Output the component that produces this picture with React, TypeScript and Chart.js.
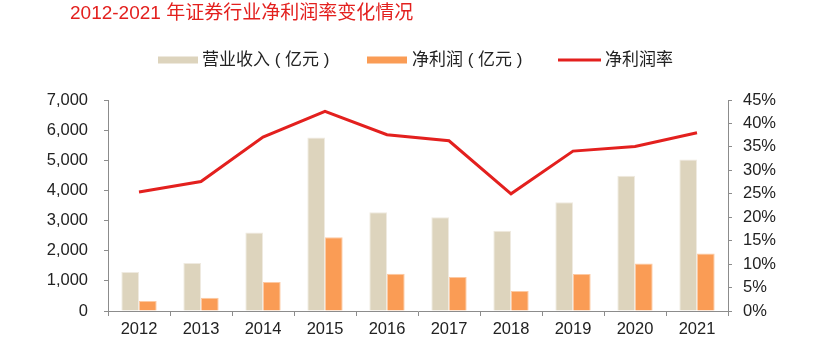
import React, { useEffect, useRef } from "react";
import { Chart, registerables } from "chart.js";

Chart.register(...registerables);

const TITLE = "2012-2021 年证券行业净利润率变化情况";
const years = ["2012", "2013", "2014", "2015", "2016", "2017", "2018", "2019", "2020", "2021"];
const revenueLabel = "营业收入 ( 亿元 )";
const profitLabel = "净利润 ( 亿元 )";
const marginLabel = "净利润率";
const revenue = [1295, 1592, 2603, 5752, 3280, 3113, 2663, 3605, 4485, 5024];
const netProfit = [329, 440, 966, 2448, 1234, 1130, 666, 1231, 1575, 1911];
const margin = [0.254, 0.276, 0.371, 0.426, 0.376, 0.363, 0.250, 0.341, 0.351, 0.380];

const BEIGE = "#DDD4BD";
const ORANGE = "#FA9C55";
const RED = "#E3201E";
const TEXT = "#222222";
const AXIS = "#8C8C8C";
const LATIN = "'Liberation Sans', Arial, 'Noto Sans CJK SC', sans-serif";

const overlayPlugin = {
  id: "overlay",
  afterDraw(chart: any) {
    const ctx = chart.ctx;
    ctx.save();
    ctx.textBaseline = "middle";
    ctx.textAlign = "left";
    ctx.fillStyle = RED;
    ctx.font = `19px ${LATIN}`;
    ctx.fillText(TITLE, 70, 14);

    ctx.font = `17px ${LATIN}`;
    const ly = 60;
    ctx.fillStyle = BEIGE;
    ctx.fillRect(158, ly - 3.5, 40, 7);
    ctx.fillStyle = TEXT;
    ctx.fillText(revenueLabel, 202, ly);

    ctx.fillStyle = ORANGE;
    ctx.fillRect(367, ly - 3.5, 40, 7);
    ctx.fillStyle = TEXT;
    ctx.fillText(profitLabel, 412, ly);

    ctx.strokeStyle = RED;
    ctx.lineWidth = 3;
    ctx.beginPath();
    ctx.moveTo(558, ly);
    ctx.lineTo(601, ly);
    ctx.stroke();
    ctx.fillStyle = TEXT;
    ctx.fillText(marginLabel, 605, ly);
    ctx.restore();
  },
};

export default function App() {
  const ref = useRef<HTMLCanvasElement>(null);
  useEffect(() => {
    if (!ref.current) return;
    const chart = new Chart(ref.current, {
      type: "bar",
      data: {
        labels: years,
        datasets: [
          {
            type: "line",
            label: marginLabel,
            data: margin,
            yAxisID: "y1",
            borderColor: RED,
            backgroundColor: RED,
            borderWidth: 3,
            pointRadius: 0,
            tension: 0,
            order: 0,
          } as any,
          {
            label: revenueLabel,
            data: revenue,
            yAxisID: "y",
            backgroundColor: BEIGE,
            borderColor: "#EFEAE0",
            borderWidth: 1,
            categoryPercentage: 0.57,
            barPercentage: 1,
            order: 1,
          },
          {
            label: profitLabel,
            data: netProfit,
            yAxisID: "y",
            backgroundColor: ORANGE,
            borderColor: "#FDC9A2",
            borderWidth: 1,
            categoryPercentage: 0.57,
            barPercentage: 1,
            order: 1,
          },
        ],
      },
      options: {
        responsive: false,
        animation: false,
        devicePixelRatio: 1,
        layout: { padding: { top: 100, left: 0, right: 0, bottom: 0 } },
        plugins: {
          legend: { display: false },
          title: { display: false },
          tooltip: { enabled: false },
        },
        scales: {
          x: {
            grid: {
              display: true,
              drawOnChartArea: false,
              drawTicks: true,
              tickLength: 5,
              color: AXIS,
              offset: true,
            },
            border: { display: true, color: AXIS, width: 1 },
            ticks: {
              color: TEXT,
              font: { family: LATIN, size: 16.5 },
              padding: 4,
              maxRotation: 0,
            },
            afterFit(scale: any) {
              scale.height = 53;
            },
          },
          y: {
            position: "left",
            min: 0,
            max: 7000,
            grid: {
              display: true,
              drawOnChartArea: false,
              drawTicks: true,
              tickLength: 4,
              color: AXIS,
            },
            border: { display: true, color: AXIS, width: 1 },
            ticks: {
              stepSize: 1000,
              color: TEXT,
              font: { family: LATIN, size: 16.5 },
              padding: 16,
              callback: (v: any) => Number(v).toLocaleString("en-US"),
            },
            afterFit(scale: any) {
              scale.width = 108;
            },
          },
          y1: {
            position: "right",
            min: 0,
            max: 0.45,
            grid: {
              display: true,
              drawOnChartArea: false,
              drawTicks: true,
              tickLength: 4,
              color: AXIS,
            },
            border: { display: true, color: AXIS, width: 1 },
            ticks: {
              stepSize: 0.05,
              color: TEXT,
              font: { family: LATIN, size: 16.5 },
              padding: 11,
              callback: (v: any) => `${Math.round(Number(v) * 100)}%`,
            },
            afterFit(scale: any) {
              scale.width = 102;
            },
          },
        },
      },
      plugins: [overlayPlugin],
    } as any);
    return () => chart.destroy();
  }, []);
  return (
    <div style={{ position: "absolute", left: 0, top: 0, width: 830, height: 364, background: "#fff" }}>
      <canvas ref={ref} width={830} height={364} />
    </div>
  );
}
